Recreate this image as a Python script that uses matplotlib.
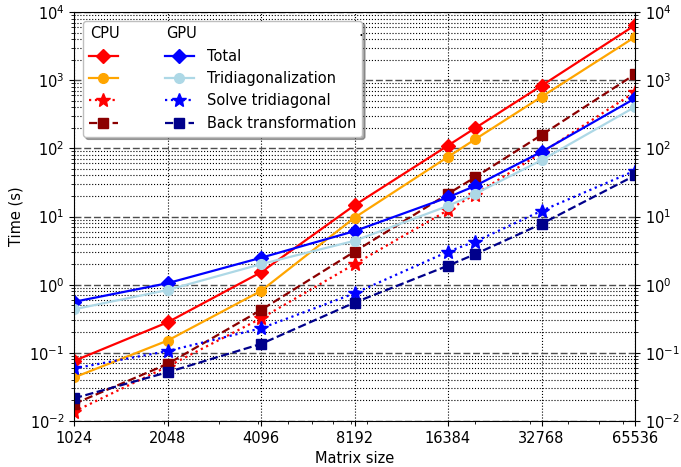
import numpy as np
import matplotlib
matplotlib.use('Agg')
import matplotlib.pyplot as plt
from matplotlib.ticker import NullFormatter, FixedLocator
from matplotlib.legend_handler import HandlerBase
from matplotlib.text import Text

# matrix sizes and timings (s)
sizes = [1024, 2048, 4096, 8192, 16384, 20000, 32768, 65536]
size_labels = ['1024', '2048', '4096', '8192', '16384', '32768', '65536']
size_ticks = [1024, 2048, 4096, 8192, 16384, 32768, 65536]
minor_x = [2000, 3000, 4000, 5000, 6000, 7000, 8000, 9000,
           20000, 30000, 40000, 50000, 60000]

cpu_total = [0.076, 0.28, 1.52, 14.6, 110, 197, 830, 6400]
cpu_tridiag = [0.0435, 0.151, 0.81, 9.6, 75, 135, 570, 4300]
cpu_solve = [0.0137, 0.063, 0.32, 2.0, 12.4, 21, 86, 670]
cpu_back = [0.0178, 0.0686, 0.425, 3.05, 21.5, 37.5, 157, 1220]

gpu_total = [0.56, 1.05, 2.48, 6.1, 19.1, 28, 89, 540]
gpu_tridiag = [0.435, 0.835, 2.0, 4.4, 14.3, 21.4, 67, 405]
gpu_solve = [0.059, 0.106, 0.229, 0.746, 3.05, 4.27, 12.1, 47]
gpu_back = [0.0215, 0.0519, 0.135, 0.545, 1.9, 2.79, 7.8, 40]

gpu_labels = ['Total', 'Tridiagonalization', 'Solve tridiagonal', 'Back transformation']

plt.rcParams['font.size'] = 10.5


class HeaderHandler(HandlerBase):
    '''
    Draw a plain text (column header) in place of a legend handle
    '''
    def create_artists(self, legend, orig_handle, xdescent, ydescent,
                       width, height, fontsize, trans):
        txt = Text(-xdescent + 1, -ydescent + height / 2, orig_handle,
                   fontsize=fontsize, va='center', ha='left', transform=trans)
        return [txt]


fig = plt.figure(figsize=(6.81, 4.67), dpi=100)
ax = fig.add_axes([74 / 681, 1 - 421 / 467, (635 - 74) / 681, (421 - 12) / 467])

lw = 1.6
c_tot, = ax.plot(sizes, cpu_total, '-D', color='red', lw=lw, ms=7)
c_tri, = ax.plot(sizes, cpu_tridiag, '-o', color='orange', lw=lw, ms=7)
c_sol, = ax.plot(sizes, cpu_solve, ':*', color='red', lw=lw, ms=10)
c_bak, = ax.plot(sizes, cpu_back, '--s', color='darkred', lw=lw, ms=6.5)

g_tot, = ax.plot(sizes, gpu_total, '-D', color='blue', lw=lw, ms=7)
g_tri, = ax.plot(sizes, gpu_tridiag, '-o', color='lightblue', lw=lw, ms=7)
g_sol, = ax.plot(sizes, gpu_solve, ':*', color='blue', lw=lw, ms=10)
g_bak, = ax.plot(sizes, gpu_back, '--s', color='darkblue', lw=lw, ms=6.5)

ax.set_xscale('log')
ax.set_yscale('log')
ax.set_xlim(1024, 65536)
ax.set_ylim(1e-2, 1e4)
ax.set_xticks(size_ticks)
ax.set_xticklabels(size_labels)
ax.xaxis.set_minor_locator(FixedLocator(minor_x))
ax.xaxis.set_minor_formatter(NullFormatter())

# minor y ticks 2..9 inside each decade
minor_y = [m * 10.0 ** e for e in range(-2, 4) for m in range(2, 10)]
ax.yaxis.set_minor_locator(FixedLocator(minor_y))
ax.yaxis.set_minor_formatter(NullFormatter())
ax.yaxis.set_ticks_position('both')
ax.tick_params(axis='y', which='both', labelright=True)

ax.grid(True, axis='y', which='major', linestyle=(0, (5, 2)), color='0.3', lw=1.0)
ax.grid(True, axis='y', which='minor', linestyle=':', color='k', lw=0.8)
ax.grid(True, axis='x', which='major', linestyle=':', color='k', lw=0.8)

ax.set_xlabel('Matrix size')
ax.set_ylabel('Time (s)')

handles = ['CPU', c_tot, c_tri, c_sol, c_bak, 'GPU', g_tot, g_tri, g_sol, g_bak]
labels = ['', ' ', ' ', ' ', ' ', ''] + gpu_labels
leg = ax.legend(handles, labels, ncol=2, loc='upper left', shadow=True,
                framealpha=1, handletextpad=0.9, borderaxespad=0.6,
                handler_map={str: HeaderHandler()})
leg.get_frame().set_edgecolor('0.75')
leg.set_zorder(10)
fig.text(358 / 681, 1 - 36 / 467, '.', fontsize=10.5, zorder=20)

fig.savefig('out.png', dpi=100)
